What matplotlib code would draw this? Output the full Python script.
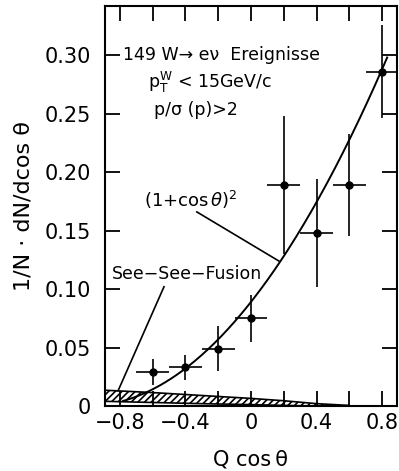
import numpy as np
import matplotlib
matplotlib.use("Agg")
import matplotlib.pyplot as plt

# data
x_vals = [-0.6, -0.4, -0.2, 0.0, 0.2, 0.4, 0.6, 0.8]
y_vals = [0.029, 0.033, 0.049, 0.075, 0.189, 0.148, 0.189, 0.286]
y_err = [0.011, 0.011, 0.019, 0.020, 0.059, 0.046, 0.044, 0.040]
x_err = [0.1, 0.1, 0.1, 0.1, 0.1, 0.1, 0.1, 0.1]
curve_norm = 0.089
curve_range = [-0.78, 0.83]
fusion_x = [-0.89, -0.6, -0.3, 0.0, 0.2, 0.4, 0.6]
fusion_hi = [0.0135, 0.0115, 0.009, 0.0065, 0.0045, 0.002, 0.0005]
fusion_lo = [0.004, 0.003, 0.002, 0.0012, 0.0005, 0.0, 0.0]
xticks = [-0.8, -0.4, 0.0, 0.4, 0.8]
xtick_labels = ["\u22120.8", "\u22120.4", "0", "0.4", "0.8"]
yticks = [0, 0.05, 0.10, 0.15, 0.20, 0.25, 0.30]
ytick_labels = ["0", "0.05", "0.10", "0.15", "0.20", "0.25", "0.30"]

plt.rcParams['font.family'] = ['DejaVu Sans']
plt.rcParams['hatch.linewidth'] = 1.2
fig = plt.figure(figsize=(3.99, 4.71), dpi=100)
ax = fig.add_axes([0.263, 0.138, 0.732, 0.849])

# curve
xc = np.linspace(curve_range[0], curve_range[1], 200)
ax.plot(xc, curve_norm * (1 + xc) ** 2, color='black', lw=1.4)

# fusion band
ax.fill_between(fusion_x, fusion_lo, fusion_hi, facecolor='none',
                edgecolor='black', hatch='/////', lw=1.2)

# data
ax.errorbar(x_vals, y_vals, yerr=y_err, xerr=x_err, fmt='o', color='black',
            ms=5, elinewidth=1.2, capsize=0)

ax.set_xlim(-0.89, 0.89)
ax.set_ylim(0, 0.342)
ax.set_xticks(np.arange(-0.8, 0.81, 0.2), minor=True)
ax.set_xticks(xticks)
ax.set_xticklabels(xtick_labels)
ax.set_yticks(yticks)
ax.set_yticklabels(ytick_labels)
ax.tick_params(which='both', direction='in', top=True, right=True,
               labelsize=15, width=1.3)
ax.tick_params(which='major', length=11)
ax.tick_params(which='minor', length=11)
ax.tick_params(axis='y', which='major', pad=10)
ax.tick_params(axis='x', which='major', pad=5)
for s in ax.spines.values():
    s.set_linewidth(1.5)

ax.set_xlabel("Q cos\u2009\u03b8", fontsize=15, labelpad=12)
ax.set_ylabel("1/N \u00b7 dN/dcos \u03b8", fontsize=16, labelpad=8)

ax.text(-0.78, 0.30, "149 W\u2192 e\u03bd  Ereignisse", fontsize=12.5, va='center')
ax.text(-0.63, 0.277, r"$\mathregular{p_T^W}$ < 15GeV/c", fontsize=12.5, va='center')
ax.text(-0.59, 0.253, "p/\u03c3 (p)>2", fontsize=12.5, va='center')

ax.text(-0.65, 0.176, r"(1+cos$\,\theta$)$^\mathregular{2}$", fontsize=13, va='center')
ax.plot([-0.33, 0.17], [0.166, 0.124], color='black', lw=1.2)
ax.text(-0.85, 0.113, "See\u2212See\u2212Fusion", fontsize=12.5, va='center')
ax.plot([-0.53, -0.81], [0.102, 0.013], color='black', lw=1.2)

fig.savefig("out.png", dpi=100)
